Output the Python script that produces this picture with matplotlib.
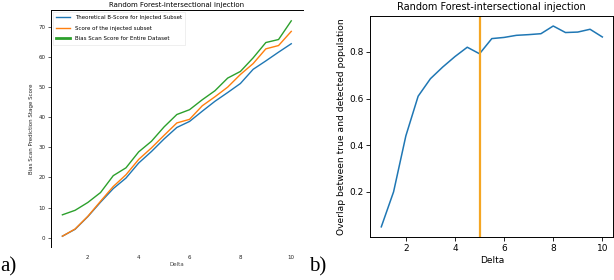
import matplotlib
matplotlib.use("Agg")
import matplotlib.pyplot as plt

# panel a) - scores against delta
delta_a = [1.0, 1.5, 2.0, 2.5, 3.0, 3.5, 4.0, 4.5, 5.0, 5.5,
           6.0, 6.5, 7.0, 7.5, 8.0, 8.5, 9.0, 9.5, 10.0]
theoretical = [0.5, 2.8, 7.0, 11.8, 16.3, 19.8, 24.8, 28.6, 32.8, 36.6,
               38.6, 42.0, 45.3, 48.2, 51.2, 55.9, 58.7, 61.6, 64.4]
injected = [0.5, 2.9, 7.1, 12.1, 17.0, 20.9, 26.0, 29.8, 34.0, 38.1,
            39.3, 43.8, 46.8, 50.0, 54.2, 57.8, 62.7, 63.8, 68.5]
entire = [7.6, 9.1, 11.7, 15.0, 20.6, 23.2, 28.5, 32.0, 36.8, 40.9,
          42.5, 45.8, 48.8, 53.0, 55.2, 59.7, 64.8, 65.8, 72.0]
labels_a = ["Theoretical B-Score for Injected Subset",
            "Score of the injected subset",
            "Bias Scan Score for Entire Dataset"]

# panel b) - overlap against delta
delta_b = [1.0, 1.5, 2.0, 2.5, 3.0, 3.5, 4.0, 4.5, 5.0, 5.5,
           6.0, 6.5, 7.0, 7.5, 8.0, 8.5, 9.0, 9.5, 10.0]
overlap = [0.05, 0.20, 0.44, 0.61, 0.685, 0.735, 0.78, 0.82, 0.792, 0.857,
           0.862, 0.871, 0.874, 0.878, 0.911, 0.883, 0.885, 0.897, 0.864]
threshold = 5.0

title = "Random Forest-intersectional injection"

fig = plt.figure(figsize=(6.14, 2.8), dpi=100)

# ---- a)
ax1 = fig.add_axes([0.083, 0.118, 0.41, 0.846])
ax1.plot(delta_a, theoretical, color="#1f77b4", lw=1.0, label=labels_a[0])
ax1.plot(delta_a, injected, color="#ff7f0e", lw=1.0, label=labels_a[1])
ax1.plot(delta_a, entire, color="#2ca02c", lw=1.0, label=labels_a[2])
ax1.set_xticks([2, 4, 6, 8, 10])
ax1.set_yticks([0, 10, 20, 30, 40, 50, 60, 70])
ax1.tick_params(axis="x", labelsize=4, length=0, pad=6, colors="#222222")
ax1.tick_params(axis="y", labelsize=4, length=2, width=0.5, pad=2, colors="#222222")
ax1.spines["bottom"].set_visible(False)
ax1.spines["right"].set_visible(False)
ax1.spines["left"].set_linewidth(0.7)
ax1.spines["top"].set_linewidth(0.7)
ax1.set_title(title, fontsize=5, pad=2)
ax1.set_xlabel("Delta", fontsize=4, labelpad=1, color="#444444")
ax1.set_ylabel("Bias Scan Prediction Stage Score", fontsize=4, labelpad=3, color="#222222")
leg = ax1.legend(loc="upper left", fontsize=4.0, frameon=True, handlelength=2.6,
                 borderpad=0.6, labelspacing=1.0, fancybox=False,
                 borderaxespad=0.3)
leg.get_frame().set_linewidth(0.4)
leg.get_frame().set_edgecolor("#dddddd")
leg.get_lines()[2].set_linewidth(2.0)

# ---- b)
ax2 = fig.add_axes([0.603, 0.154, 0.396, 0.789])
ax2.plot(delta_b, overlap, color="#1f77b4", lw=1.1)
ax2.axvline(threshold, color="#f5a623", lw=1.6)
ax2.set_xticks([2, 4, 6, 8, 10])
ax2.set_yticks([0.2, 0.4, 0.6, 0.8])
ax2.tick_params(labelsize=6.5, length=3, width=0.6, pad=2)
for s in ax2.spines.values():
    s.set_linewidth(0.7)
ax2.set_title(title, fontsize=7, pad=4)
ax2.set_xlabel("Delta", fontsize=6.5, labelpad=2)
ax2.set_ylabel("Overlap between true and detected population", fontsize=6.6,
               labelpad=2)

# panel letters
fig.text(0.0, 0.03, "a)", fontsize=15, family=["Liberation Serif", "DejaVu Serif"])
fig.text(0.503, 0.03, "b)", fontsize=15, family=["Liberation Serif", "DejaVu Serif"])

fig.savefig("out.png", dpi=100)
